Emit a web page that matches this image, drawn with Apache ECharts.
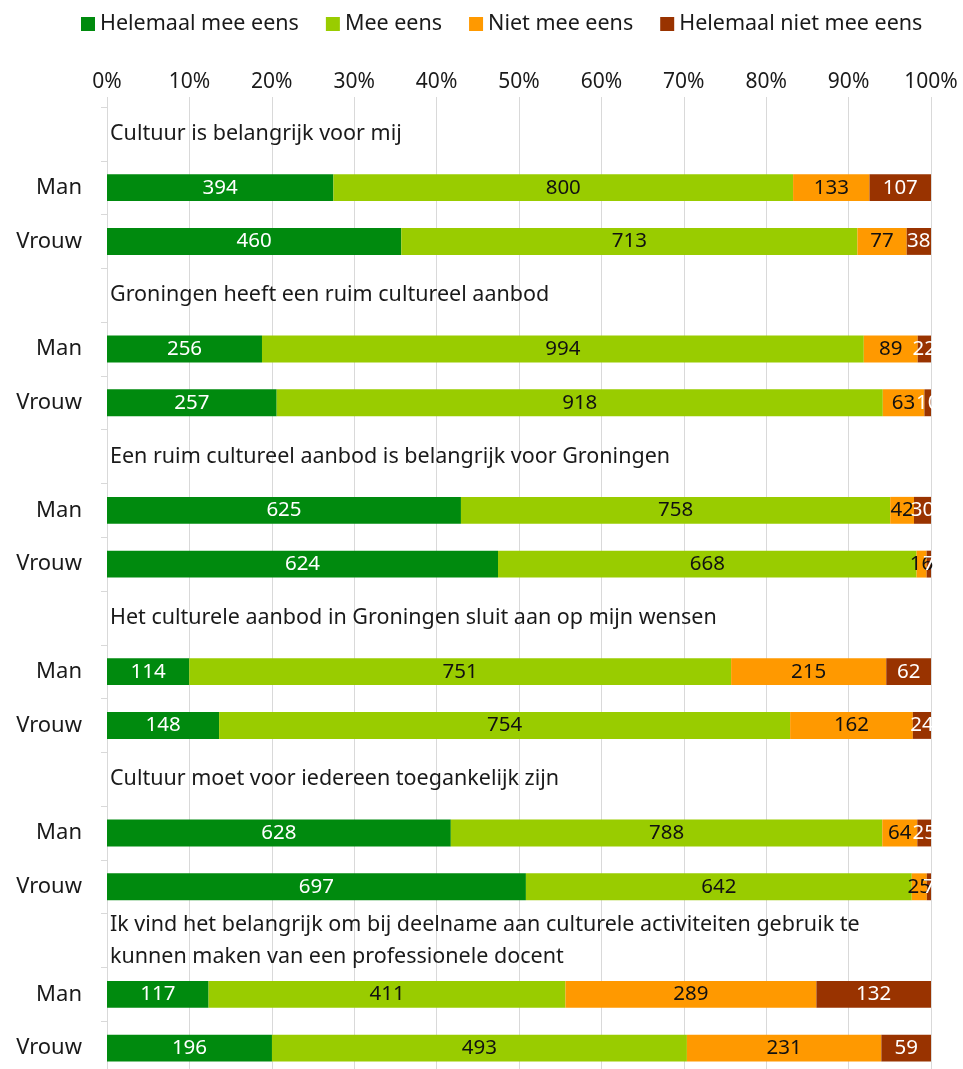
<!DOCTYPE html>
<html>
<head>
<meta charset="utf-8">
<script src="https://cdn.jsdelivr.net/npm/echarts@6/dist/echarts.min.js"></script>
<style>
  html, body { margin: 0; padding: 0; background: #fff; overflow: hidden; }
  #chart { width: 963px; height: 1085px; }
</style>
</head>
<body>
<div id="chart"></div>
<script>
const questions = [
  "Cultuur is belangrijk voor mij",
  "Groningen heeft een ruim cultureel aanbod",
  "Een ruim cultureel aanbod is belangrijk voor Groningen",
  "Het culturele aanbod in Groningen sluit aan op mijn wensen",
  "Cultuur moet voor iedereen toegankelijk zijn",
  "Ik vind het belangrijk om bij deelname aan culturele activiteiten gebruik te\nkunnen maken van een professionele docent",
];
const groups = ["Man", "Vrouw"];
const seriesNames = ["Helemaal mee eens", "Mee eens", "Niet mee eens", "Helemaal niet mee eens"];
const seriesColors = ["#008a0e", "#99cc00", "#ff9900", "#993300"];
const labelColors = ["#fff", "#111", "#111", "#fff"];

// counts, per question: Man, Vrouw
const helemaalMeeEens = [394, 460, 256, 257, 625, 624, 114, 148, 628, 697, 117, 196];
const meeEens = [800, 713, 994, 918, 758, 668, 751, 754, 788, 642, 411, 493];
const nietMeeEens = [133, 77, 89, 63, 42, 16, 215, 162, 64, 25, 289, 231];
const helemaalNietMeeEens = [107, 38, 22, 10, 30, 7, 62, 24, 25, 7, 132, 59];
const xTicks = [0, 10, 20, 30, 40, 50, 60, 70, 80, 90, 100];

const counts = [helemaalMeeEens, meeEens, nietMeeEens, helemaalNietMeeEens];

// rows: title, Man, Vrouw for each question
const rows = [];
questions.forEach((q, qi) => {
  rows.push({ title: q });
  groups.forEach((g, gi) => rows.push({ group: g, idx: qi * 2 + gi }));
});
const yCats = rows.map((r) => r.group || "");

const totals = helemaalMeeEens.map((_, i) => counts.reduce((s, c) => s + c[i], 0));

const font = "Noto Sans";

const barSeries = seriesNames.map((name, si) => ({
  name,
  type: "bar",
  stack: "all",
  barWidth: "50%",
  itemStyle: { color: seriesColors[si] },
  label: {
    show: true,
    position: "inside",
    color: labelColors[si],
    fontFamily: font,
    fontSize: 20.5,
    formatter: (p) => p.data.count,
  },
  data: rows.map((r) =>
    r.title
      ? "-"
      : { value: (counts[si][r.idx] / totals[r.idx]) * 100, count: counts[si][r.idx] }
  ),
}));

const titleSeries = {
  name: "titles",
  type: "scatter",
  symbolSize: 0,
  silent: true,
  itemStyle: { opacity: 1 },
  label: {
    show: true,
    position: "right",
    distance: 3,
    color: "#1a1a1a",
    fontFamily: font,
    fontSize: 21.5,
    lineHeight: 32,
    formatter: (p) => p.data.title,
  },
  data: rows
    .map((r, i) => (r.title ? { value: [0, i], title: r.title } : null))
    .filter(Boolean),
};

const chart = echarts.init(document.getElementById("chart"));
chart.setOption({
  animation: false,
  legend: {
    data: seriesNames,
    top: 8,
    left: 76,
    icon: "rect",
    itemWidth: 14,
    itemHeight: 14,
    itemGap: 27,
    textStyle: { fontFamily: font, fontSize: 21.5, color: "#1a1a1a" },
  },
  grid: { left: 107, right: 32, top: 107, height: 968 },
  xAxis: {
    type: "value",
    position: "top",
    min: 0,
    max: 100,
    interval: 10,
    axisLine: { show: false },
    axisTick: { show: true, length: 10, lineStyle: { color: "#d9d9d9" } },
    axisLabel: {
      formatter: (v) => (xTicks.includes(v) ? v + "%" : ""),
      fontFamily: font,
      fontSize: 21,
      color: "#1a1a1a",
      margin: 14,
    },
    splitLine: { show: true, lineStyle: { color: "#d9d9d9" } },
  },
  yAxis: {
    type: "category",
    inverse: true,
    data: yCats,
    axisLine: { show: true, lineStyle: { color: "#d9d9d9" } },
    axisTick: { show: true, length: 6, lineStyle: { color: "#d9d9d9" } },
    axisLabel: { fontFamily: font, fontSize: 22, color: "#1a1a1a", margin: 25 },
  },
  series: [...barSeries, titleSeries],
});
</script>
</body>
</html>
